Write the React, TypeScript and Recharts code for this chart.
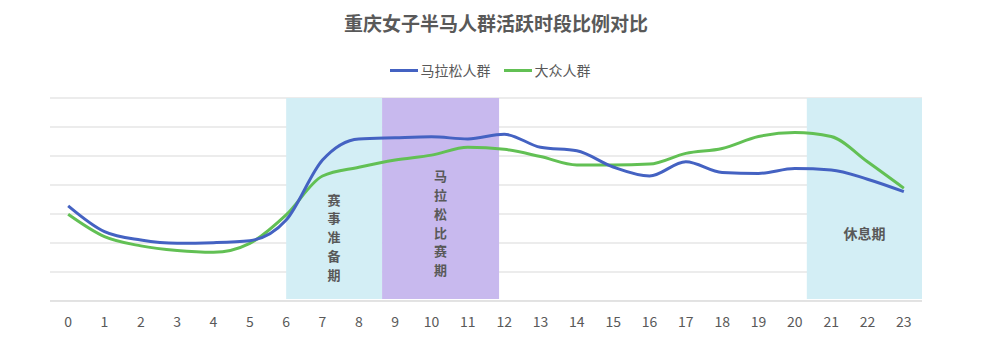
import React from "react";
import {
    LineChart,
    Line,
    XAxis,
    YAxis,
    CartesianGrid,
    ReferenceArea,
} from "recharts";

const hours = [
    0, 1, 2, 3, 4, 5, 6, 7, 8, 9, 10, 11, 12, 13, 14, 15, 16, 17, 18, 19, 20, 21, 22, 23,
];
const marathonGroup = [
    3.28, 2.39, 2.1, 1.99, 2.01, 2.08, 2.79, 4.86, 5.59, 5.63, 5.66, 5.59, 5.75, 5.3,
    5.18, 4.62, 4.31, 4.8, 4.43, 4.4, 4.57, 4.52, 4.2, 3.77,
];
const publicGroup = [
    2.99, 2.22, 1.9, 1.74, 1.68, 1.99, 2.97, 4.31, 4.61, 4.86, 5.03, 5.3, 5.23, 4.98,
    4.69, 4.69, 4.72, 5.09, 5.26, 5.67, 5.81, 5.67, 4.8, 3.89,
];
const yTicks = [0, 1, 2, 3, 4, 5, 6, 7];

const periods = [
    { from: 6, to: 8.64, label: "赛事准备期", vertical: true, color: "#D3EEF5", at: 0.69 },
    { from: 8.64, to: 11.86, label: "马拉松比赛期", vertical: true, color: "#C8B9EE", at: 0.62 },
    { from: 20.33, to: 23.5, label: "休息期", vertical: false, color: "#D3EEF5", at: 0.67 },
];

const data = hours.map((h, i) => ({
    hour: h,
    marathon: marathonGroup[i],
    public: publicGroup[i],
}));

const FONT = '"Noto Sans CJK SC", "Noto Sans", sans-serif';
const GREY = "#595959";
const BLUE = "#4462C2";
const GREEN = "#62C054";

function PeriodLabel({ viewBox, text, vertical, at }: any) {
    if (!viewBox) return null;
    const cx = viewBox.x + viewBox.width / 2;
    const cy = viewBox.y + viewBox.height * at;
    const chars = vertical ? text.split("") : [text];
    const step = 18.8;
    const start = cy - ((chars.length - 1) * step) / 2;
    return (
        <g>
            {chars.map((c: string, i: number) => (
                <text
                    key={i}
                    x={cx}
                    y={start + i * step}
                    textAnchor="middle"
                    dominantBaseline="central"
                    fontSize={vertical ? 13 : 14}
                    fontWeight="bold"
                    fill={GREY}
                    fontFamily={FONT}
                >
                    {c}
                </text>
            ))}
        </g>
    );
}

function LegendRow() {
    const items = [
        { name: "马拉松人群", color: BLUE },
        { name: "大众人群", color: GREEN },
    ];
    return (
        <div
            style={{
                position: "absolute",
                top: 60,
                left: 0,
                width: 980,
                display: "flex",
                justifyContent: "center",
                gap: 13,
                fontFamily: FONT,
                fontSize: 14,
                color: GREY,
            }}
        >
            {items.map((it) => (
                <span key={it.name} style={{ display: "flex", alignItems: "center", gap: 3 }}>
                    <span
                        style={{
                            display: "inline-block",
                            width: 28,
                            height: 3,
                            background: it.color,
                        }}
                    />
                    {it.name}
                </span>
            ))}
        </div>
    );
}

export default function App() {
    return (
        <div
            style={{
                position: "absolute",
                top: 0,
                left: 0,
                width: 1000,
                height: 340,
                background: "#fff",
            }}
        >
            <div
                style={{
                    position: "absolute",
                    top: 9,
                    left: 0,
                    width: 992,
                    textAlign: "center",
                    fontFamily: FONT,
                    fontSize: 19,
                    fontWeight: "bold",
                    color: GREY,
                }}
            >
                重庆女子半马人群活跃时段比例对比
            </div>
            <LegendRow />
            <LineChart
                width={1000}
                height={340}
                data={data}
                margin={{ top: 98, right: 78, bottom: 9, left: 50 }}
            >
                <CartesianGrid stroke="#D9D9D9" vertical={false} />
                {periods.map((p) => (
                    <ReferenceArea
                        key={p.label}
                        x1={p.from}
                        x2={p.to}
                        y1={0.07}
                        y2={7}
                        fill={p.color}
                        fillOpacity={1}
                        stroke="none"
                        ifOverflow="visible"
                        label={
                            <PeriodLabel text={p.label} vertical={p.vertical} at={p.at} />
                        }
                    />
                ))}
                <XAxis
                    dataKey="hour"
                    type="number"
                    domain={[-0.5, 23.5]}
                    ticks={hours}
                    interval={0}
                    height={30}
                    tickLine={false}
                    axisLine={{ stroke: "#D9D9D9" }}
                    tickMargin={10}
                    tick={{ fontSize: 14, fill: GREY, fontFamily: FONT }}
                />
                <YAxis hide domain={[0, 7]} ticks={yTicks} />
                <Line
                    type="monotone"
                    dataKey="public"
                    stroke={GREEN}
                    strokeWidth={3}
                    dot={false}
                    isAnimationActive={false}
                />
                <Line
                    type="monotone"
                    dataKey="marathon"
                    stroke={BLUE}
                    strokeWidth={3}
                    dot={false}
                    isAnimationActive={false}
                />
            </LineChart>
        </div>
    );
}
